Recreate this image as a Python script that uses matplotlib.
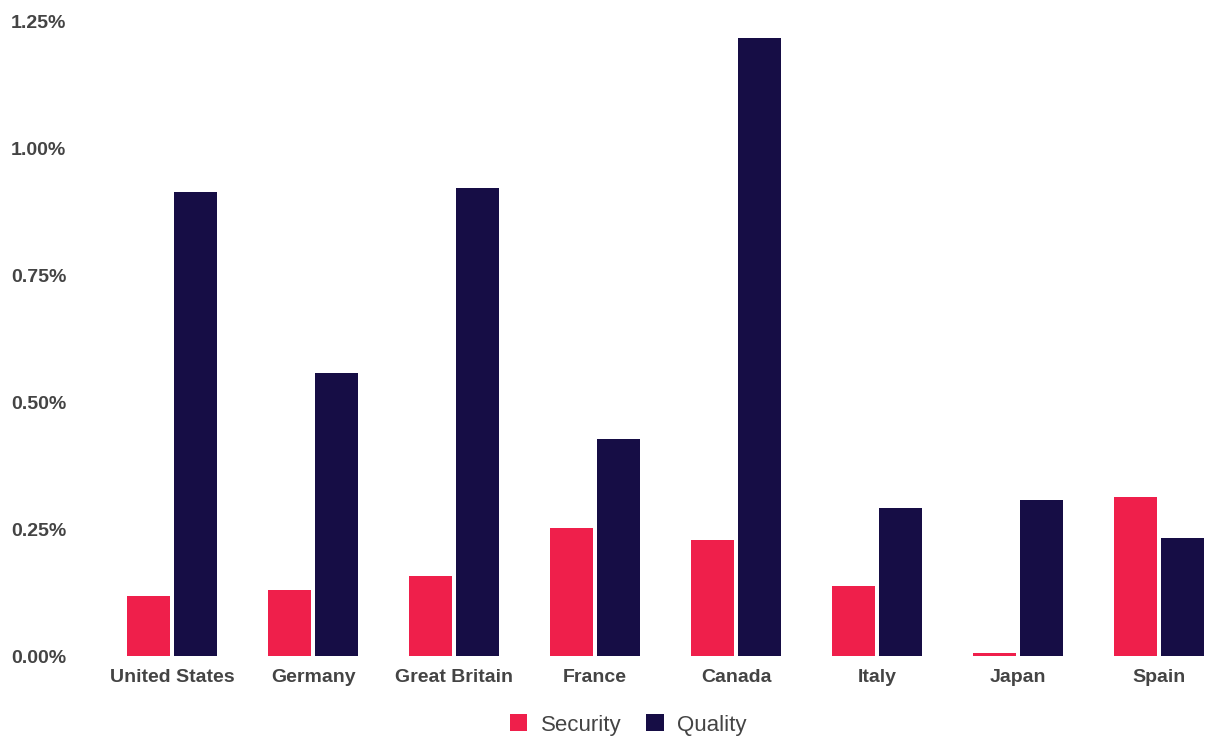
import numpy as np
import matplotlib
matplotlib.use("Agg")
import matplotlib.pyplot as plt
from matplotlib.patches import Patch
from matplotlib.ticker import FuncFormatter

countries = ["United States", "Germany", "Great Britain", "France",
             "Canada", "Italy", "Japan", "Spain"]
security = [0.118, 0.130, 0.157, 0.252, 0.228, 0.138, 0.006, 0.313]
quality = [0.913, 0.557, 0.921, 0.427, 1.217, 0.291, 0.307, 0.232]
yticks = [0.0, 0.25, 0.5, 0.75, 1.0, 1.25]

red = "#EF1F4B"
navy = "#160D45"

plt.rcParams["font.family"] = ["Liberation Sans", "DejaVu Sans"]

fig = plt.figure(figsize=(12.1, 7.38), dpi=100)
ax = fig.add_axes([0.087, 0.111, 0.913, 0.8605])

x = np.arange(len(countries))
w = 0.305
gap = 0.014
ax.bar(x - w / 2 - gap, security, w, color=red, label="Security")
ax.bar(x + w / 2 + gap, quality, w, color=navy, label="Quality")

ax.set_xlim(-0.475, 7.36)
ax.set_ylim(0, 1.25)
ax.set_yticks(yticks)
ax.yaxis.set_major_formatter(FuncFormatter(lambda v, p: "{:.2f}%".format(v)))
ax.set_xticks(x)
ax.set_xticklabels(countries)

for s in ax.spines.values():
    s.set_visible(False)
ax.tick_params(axis="both", length=0, labelsize=14, colors="#444444")
ax.tick_params(axis="y", pad=28)
ax.tick_params(axis="x", pad=9)
for lab in ax.get_xticklabels() + ax.get_yticklabels():
    lab.set_fontweight("bold")

handles = [Patch(facecolor=red, label="Security"),
           Patch(facecolor=navy, label="Quality")]
fig.legend(handles=handles, loc="lower center", ncol=2, frameon=False,
           bbox_to_anchor=(0.519, -0.024), fontsize=16, handlelength=0.8,
           handleheight=0.8, handletextpad=0.6, columnspacing=1.1,
           labelcolor="#444444")

fig.savefig("out.png", dpi=100)
